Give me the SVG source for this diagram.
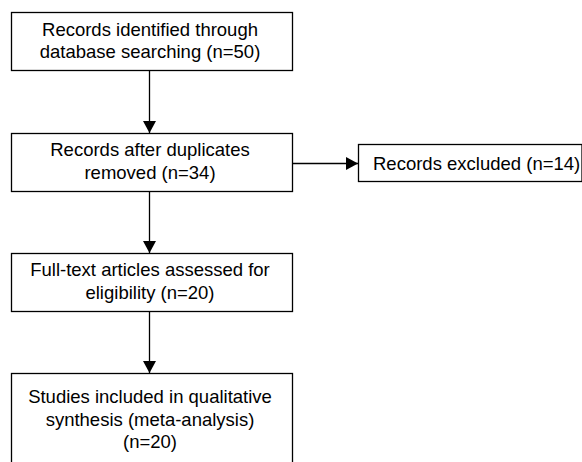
<svg xmlns="http://www.w3.org/2000/svg" width="582" height="462" viewBox="0 0 582 462">
<style>
.box{fill:#fff;stroke:#000;stroke-width:1.3}
.t{font-family:"Liberation Sans",Arial,sans-serif;font-size:18.5px;fill:#000;text-anchor:middle}
.c{stroke:#000;stroke-width:1.3;fill:none}
</style>
<defs>
<marker id="ah" viewBox="0 0 12 13" refX="12" refY="6.5" markerWidth="12" markerHeight="13" markerUnits="userSpaceOnUse" orient="auto">
<path d="M0,0 L12,6.5 L0,13 Z" fill="#000"/>
</marker>
</defs>
<rect width="582" height="462" fill="#fff"/>
<g id="connectors">
<line class="c" x1="149.5" y1="70" x2="149.5" y2="133" marker-end="url(#ah)"/>
<line class="c" x1="149.5" y1="191" x2="149.5" y2="253" marker-end="url(#ah)"/>
<line class="c" x1="149.5" y1="312" x2="149.5" y2="373" marker-end="url(#ah)"/>
<line class="c" x1="292" y1="163.5" x2="358" y2="163.5" marker-end="url(#ah)"/>
</g>
<g id="n1">
<rect class="box" x="11.5" y="12.5" width="281" height="58"/>
<text class="t" x="150" y="36">Records identified through</text>
<text class="t" x="150" y="58">database searching (n=50)</text>
</g>
<g id="n2">
<rect class="box" x="11.5" y="133.5" width="281" height="58"/>
<text class="t" x="150" y="156">Records after duplicates</text>
<text class="t" x="150" y="179">removed (n=34)</text>
</g>
<g id="n3">
<rect class="box" x="358.5" y="144.5" width="223.5" height="37"/>
<text class="t" x="373" y="170" style="text-anchor:start">Records excluded (n=14)</text>
</g>
<g id="n4">
<rect class="box" x="11.5" y="253.5" width="281" height="58"/>
<text class="t" x="150" y="276">Full-text articles assessed for</text>
<text class="t" x="150" y="299">eligibility (n=20)</text>
</g>
<g id="n5">
<rect class="box" x="11.5" y="373.5" width="281" height="100"/>
<text class="t" x="150" y="403">Studies included in qualitative</text>
<text class="t" x="150" y="425.5">synthesis (meta-analysis)</text>
<text class="t" x="150" y="448">(n=20)</text>
</g>
</svg>
